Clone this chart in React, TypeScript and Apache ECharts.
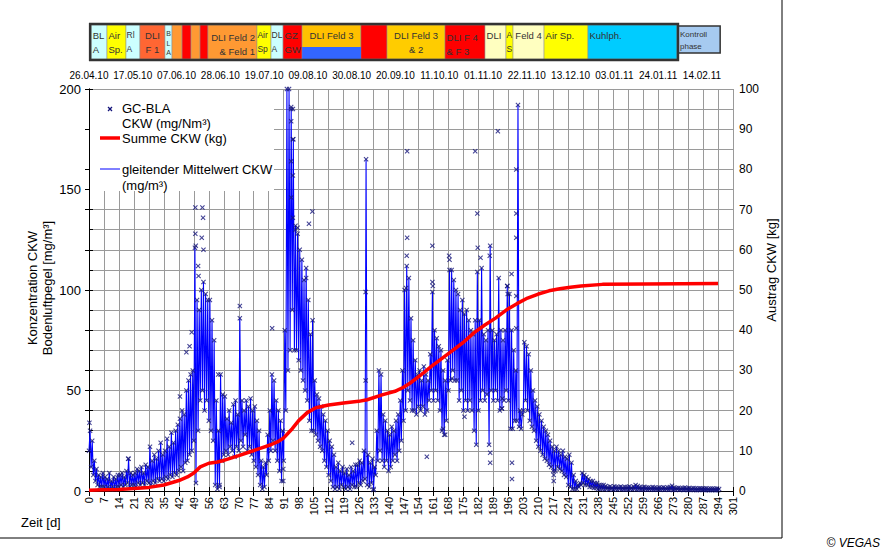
import React, { useEffect, useRef } from "react";
import * as echarts from "echarts";

// ---------- data ----------
const dateLabels = [
  "26.04.10", "17.05.10", "07.06.10", "28.06.10", "19.07.10", "09.08.10", "30.08.10", "20.09.10",
  "11.10.10", "01.11.10", "22.11.10", "13.12.10", "03.01.11", "24.01.11", "14.02.11",
];
// the date row of the original uses its own, slightly compressed scale
const dateAxisMax = 308.9;

// daily low / high of the moving-average line (mg/m³), day 0..294
const avgLo = [
  20, 12, 8, 5, 3, 2, 2,
  2, 1, 2, 1, 2, 1, 2,
  2, 3, 2, 3, 4, 2, 3,
  3, 2, 4, 3, 4, 3, 5,
  4, 3, 5, 4, 6, 5, 6,
  5, 7, 6, 8, 7, 9, 8,
  10, 12, 10, 14, 15, 18, 20,
  25, 4, 30, 45, 50, 40, 45,
  35, 30, 25, 3, 1, 3, 15,
  18, 20, 18, 22, 20, 17, 22,
  20, 25, 22, 28, 20, 22, 18,
  15, 12, 8, 3, 1, 2, 8,
  15, 20, 25, 20, 15, 10, 5,
  15, 40, 60, 70, 90, 70, 70,
  65, 60, 55, 50, 45, 35, 30,
  30, 28, 25, 22, 20, 15, 12,
  8, 5, 2, 1, 2, 1, 3,
  2, 1, 2, 1, 3, 2, 2,
  4, 3, 5, 6, 3, 2, 4,
  1, 8, 15, 20, 15, 12, 15,
  10, 12, 15, 18, 15, 20, 25,
  35, 40, 50, 45, 40, 40, 38,
  42, 40, 42, 38, 40, 45, 50,
  45, 50, 45, 40, 30, 28, 35,
  50, 55, 60, 55, 55, 45, 50,
  40, 45, 40, 45, 40, 30, 23,
  40, 45, 50, 45, 48, 23, 50,
  45, 50, 45, 40, 41, 45, 50,
  45, 31, 31, 35, 35, 32, 31,
  40, 45, 40, 35, 32, 30, 25,
  22, 20, 18, 16, 15, 13, 12,
  10, 10, 12, 11, 10, 8, 7,
  3, 2, 1, 1, 1, 2, 3,
  4, 3, 3, 2, 2, 1.5, 1.5,
  1, 1, 1, 0.8, 1, 0.8, 1,
  0.7, 0.9, 0.8, 1, 0.7, 0.8, 0.8,
  0.7, 0.9, 0.8, 1, 0.7, 0.8, 0.6,
  0.8, 0.7, 0.6, 0.8, 0.7, 0.6, 0.8,
  0.7, 0.6, 0.7, 0.6, 0.7, 0.6, 0.7,
  0.5, 0.6, 0.7, 0.5, 0.6, 0.5, 0.6,
  0.5, 0.5, 0.6, 0.5, 0.4, 0.5, 0.6,
  0.5, 0.4, 0.5, 0.4, 0.4, 0.5, 0.4, 0.4,
];
const avgHi = [
  30, 25, 15, 11, 8, 7, 9,
  7, 6, 9, 5, 7, 6, 8,
  8, 9, 7, 10, 16, 9, 8,
  9, 11, 10, 12, 9, 13, 12,
  22, 15, 18, 16, 20, 24, 18,
  20, 26, 22, 29, 24, 30, 33,
  36, 40, 38, 50, 55, 58, 60,
  121, 95, 90, 100, 104, 98, 95,
  95, 85, 75, 45, 30, 58, 48,
  47, 36, 40, 34, 43, 45, 38,
  86, 45, 40, 45, 42, 46, 40,
  42, 35, 30, 15, 12, 14, 28,
  40, 58, 55, 45, 40, 35, 30,
  80, 200, 200, 190, 175, 132, 128,
  120, 115, 105, 111, 95, 78, 85,
  55, 48, 46, 42, 38, 35, 30,
  25, 22, 18, 12, 14, 10, 12,
  9, 11, 8, 12, 10, 13, 13,
  15, 14, 20, 165, 18, 14, 16,
  12, 30, 60, 58, 38, 35, 30,
  28, 32, 30, 35, 38, 45, 60,
  100, 112, 106, 86, 75, 65, 58,
  60, 55, 62, 58, 55, 68, 99,
  80, 76, 72, 70, 60, 55, 65,
  110, 110, 105, 100, 98, 90, 95,
  88, 90, 85, 80, 78, 85, 109,
  85, 111, 78, 75, 80, 122, 80,
  75, 78, 106, 80, 75, 80, 102,
  98, 80, 70, 60, 192, 40, 38,
  74, 72, 68, 60, 50, 45, 42,
  38, 35, 32, 30, 28, 25, 22,
  20, 22, 20, 18, 20, 17, 16,
  18, 14, 8, 5, 3, 4, 9,
  8, 7, 6, 5, 5, 4, 4,
  3, 3, 3, 2.5, 2, 2.2, 1.8,
  2.4, 2, 1.9, 2.2, 1.8, 2, 2,
  2.3, 1.8, 2.2, 3, 2.5, 2, 1.8,
  2.1, 1.7, 1.8, 1.6, 2, 1.7, 1.5,
  1.8, 1.6, 1.9, 1.5, 1.7, 2, 2.6,
  1.8, 1.5, 1.6, 1.4, 1.5, 1.7, 1.4,
  1.5, 1.3, 1.5, 1.4, 1.2, 1.4, 1.3,
  1.2, 1.4, 1.1, 1.3, 1.2, 1.1, 1.2, 1.0,
];

// single GC-BLA measurements standing apart from the band
const outlierDays = [
  0.2, 18.3, 42.5, 45.5, 47, 48, 49.7, 49.7, 49.9, 51, 51.2, 53, 53.3, 52.7, 53.5, 60.4, 61, 70.5,
  85.6, 90.8, 90.8, 94.5, 94.5, 94.5, 94.5, 95.3, 95.3, 95.3, 95.3, 96.5, 97.5, 101.5, 102.8, 104.4,
  123, 129.3, 129.3, 133, 148.2, 148.7, 148.7, 148.5, 157.9, 160.5, 160.5, 160.7, 165.5, 166.5,
  168.3, 168.5, 169.6, 175.5, 180.5, 181.5, 181.7, 183, 187.5, 187.5, 187.3, 191.1, 193, 193.2,
  195.5, 195.7, 197.7, 197.7, 197.5, 199.7, 199.7, 199.7, 199.7, 199.7, 217.2, 217.2,
];
const outlierVals = [
  34, 16, 47, 69, 72, 79, 141, 128, 122, 112, 107, 141, 136, 126, 120, 58, 2, 92,
  81, 11, 5, 191, 184, 164, 146, 190, 175, 157, 136, 130, 131, 106, 133, 139,
  24, 99, 55, 0.5, 101, 169, 126, 117, 17, 122, 104, 102, 31, 28,
  117, 115, 56, 37, 169, 138, 121, 116, 19, 14, 117, 179, 41, 46,
  102, 98, 14, 6, 108, 160, 138, 126, 97, 81, 8, 5,
];

// cumulative discharge (kg)
const sumDays = [
  0, 7, 14, 21, 28, 35, 42, 46, 49, 52, 56, 60, 63, 70, 75, 80, 85, 88, 91, 95,
  98, 102, 106, 112, 119, 126, 130, 137, 143, 147, 150, 155, 160, 165, 170, 175, 180, 185, 190, 195,
  200, 205, 210, 215, 220, 225, 230, 240, 260, 294,
];
const sumKg = [
  0.2, 0.3, 0.4, 0.6, 0.9, 1.5, 2.6, 3.5, 4.5, 6.0, 6.9, 7.2, 7.6, 8.8, 9.7, 10.6, 11.5, 12.2, 13.2, 15.5,
  17.5, 19.5, 20.7, 21.4, 21.9, 22.3, 22.7, 23.9, 24.8, 25.8, 26.8, 28.8, 31, 33, 35, 37, 39.4, 41.3, 43, 45,
  46.6, 48, 49, 49.8, 50.3, 50.7, 51, 51.4, 51.5, 51.6,
];

// project phases (day boundaries) shown in the top strip
const phaseStart = [1, 8.4, 17.3, 23.8, 35.5, 38.8, 43.5, 47.7, 51.9, 55.6, 78.5, 85.1, 90.7, 99.6, 127.1, 139.3, 166.4, 185.1, 194.9, 198.2, 212.7, 233.2];
const phaseEnd = [8.4, 17.3, 23.8, 35.5, 38.8, 43.5, 47.7, 51.9, 55.6, 78.5, 85.1, 90.7, 99.6, 127.1, 139.3, 166.4, 185.1, 194.9, 198.2, 212.7, 233.2, 274.8];
const phaseLabels = [
  "BL\nA", "Air\nSp.", "Rl\nA", "DLI\nF 1", "B\nL\nA", "", "", "", "", "DLI Feld 2\n& Feld 1", "Air\nSp", "DL\nA", "GZ\nGW",
  "DLI Feld 3", "", "DLI Feld 3\n& 2", "DLI F 4\n& F 3", "DLI", "A\nS", "Feld 4", "Air Sp.", "Kuhlph.",
];
const controlPhase = { start: 275.3, end: 295, label: "Kontroll\nphase" };

// ---------- styles ----------
const phaseFill = [
  "#ccffff", "#ffff00", "#ccffff", "#ff6633", "#ccffff", "#ff9933", "#ff0000", "#ff9933", "#ff0000", "#ff9933", "#ffff00", "#ccffff", "#ff0000",
  "#ffc000", "#ff0000", "#ffcc00", "#ff0000", "#ffffc0", "#ffff00", "#ffffc0", "#ffff00", "#00ccff",
];
const phaseAlign = [
  "left", "left", "left", "center", "center", "center", "center", "center", "center", "right", "left", "left", "left",
  "center", "center", "center", "left", "left", "left", "center", "left", "left",
];

const FONT = '"Liberation Sans", Arial, sans-serif';

export default function App() {
  const ref = useRef<HTMLDivElement>(null);

  useEffect(() => {
    document.body.style.margin = "0";
    const chart = echarts.init(ref.current!, null, { renderer: "svg" });

    const avgLine: number[][] = [];
    for (let d = 0; d < avgLo.length; d++) {
      avgLine.push([d, avgLo[d]]);
      avgLine.push([d + 0.5, avgHi[d]]);
    }
    const scatterPts: number[][] = avgLine.slice();
    for (let i = 0; i < outlierDays.length; i++) scatterPts.push([outlierDays[i], outlierVals[i]]);
    const sumLine = sumDays.map((d, i) => [d, sumKg[i]]);

    const black = "#000";
    const grid = "#9a9a9a";
    const xMarker = "path://M0,1.5L1.5,0L5,3.5L8.5,0L10,1.5L6.5,5L10,8.5L8.5,10L5,6.5L1.5,10L0,8.5L3.5,5Z";

    chart.setOption({
      animation: false,
      backgroundColor: "#fff",
      textStyle: { fontFamily: FONT },
      grid: { left: 89, right: 157, top: 89, bottom: 59, containLabel: false },
      xAxis: [
        {
          type: "value", position: "bottom", min: 0, max: 301, interval: 7,
          axisLine: { lineStyle: { color: black, width: 1 } },
          axisTick: { show: true, inside: false, length: 4, lineStyle: { color: black } },
          axisLabel: { rotate: 90, fontSize: 11, color: black, margin: 6, fontFamily: FONT },
          splitLine: { show: true, lineStyle: { color: grid, width: 1 } },
        },
        {
          type: "value", position: "bottom", min: 0, max: 301, interval: 7,
          axisLine: { show: false },
          axisTick: { show: true, inside: true, length: 4, lineStyle: { color: black } },
          axisLabel: { show: false }, splitLine: { show: false },
        },
        {
          type: "value", position: "top", min: 0, max: 301, interval: 7,
          axisLine: { lineStyle: { color: black, width: 1 } },
          axisTick: { show: true, inside: true, length: 5, lineStyle: { color: black } },
          axisLabel: { show: false },
          splitLine: { show: false },
        },
        {
          type: "value", position: "top", min: 0, max: dateAxisMax, interval: 21,
          axisLine: { show: false },
          axisTick: { show: false },
          axisLabel: {
            fontSize: 10, color: black, margin: 9, fontFamily: FONT, showMaxLabel: false,
            formatter: (v: number) => (v % 21 === 0 ? dateLabels[v / 21] || "" : ""),
          },
          splitLine: { show: false },
        },
      ],
      yAxis: [
        {
          type: "value", position: "left", min: 0, max: 200, interval: 10,
          axisLine: { show: true, lineStyle: { color: black, width: 1 } },
          axisTick: { show: true, inside: true, length: 4, lineStyle: { color: black } },
          axisLabel: { fontSize: 13, color: black, margin: 8, fontFamily: FONT, formatter: (v: number) => (v % 50 === 0 ? String(v) : "") },
          splitLine: { show: true, lineStyle: { color: grid, width: 1 } },
        },
        {
          type: "value", position: "right", min: 0, max: 100, interval: 10,
          axisLine: { show: true, lineStyle: { color: black, width: 1 } },
          axisTick: { show: true, inside: false, length: 4, lineStyle: { color: black } },
          axisLabel: { fontSize: 12, color: black, margin: 6, fontFamily: FONT },
          splitLine: { show: false },
        },
        {
          type: "value", position: "left", min: 0, max: 200, interval: 50,
          axisLine: { show: false },
          axisTick: { show: true, inside: false, length: 4, lineStyle: { color: black } },
          axisLabel: { show: false }, splitLine: { show: false },
        },
        {
          type: "value", position: "right", min: 0, max: 100, interval: 10,
          axisLine: { show: false },
          axisTick: { show: true, inside: true, length: 4, lineStyle: { color: black } },
          axisLabel: { show: false }, splitLine: { show: false },
        },
      ],
      series: [
        {
          name: "gleitender Mittelwert CKW", type: "line", xAxisIndex: 0, yAxisIndex: 0,
          data: avgLine, showSymbol: false, symbol: "none",
          lineStyle: { color: "#0000ff", width: 1.1 }, z: 2, silent: true,
        },
        {
          name: "GC-BLA", type: "scatter", xAxisIndex: 0, yAxisIndex: 0,
          data: scatterPts, symbol: xMarker, symbolSize: 5,
          itemStyle: { color: "#14147a" }, z: 3, silent: true,
        },
        {
          name: "Summe CKW (kg)", type: "line", xAxisIndex: 0, yAxisIndex: 1,
          data: sumLine, showSymbol: false, symbol: "none",
          lineStyle: { color: "#ff0000", width: 3.5 }, z: 4, silent: true,
        },
      ],
    });

    const px = (d: number) => chart.convertToPixel({ xAxisIndex: 0 }, d) as number;
    const els: any[] = [];
    const barTop = 25, barBot = 59;

    // phase strip
    for (let i = 0; i < phaseStart.length; i++) {
      const x0 = px(phaseStart[i]);
      const x1 = px(phaseEnd[i]);
      els.push({
        type: "rect", shape: { x: x0, y: barTop, width: x1 - x0, height: barBot - barTop },
        style: { fill: phaseFill[i], stroke: "#8a8a8a", lineWidth: 0.5 }, z: 10,
      });
      if (i === 13) {
        els.push({
          type: "rect", shape: { x: x0, y: 47, width: x1 - x0, height: barBot - 47 },
          style: { fill: "#3366ff" }, z: 11,
        });
      }
      const label = phaseLabels[i];
      if (!label) continue;
      const lines = label.split("\n").length;
      const align = phaseAlign[i];
      const narrow = x1 - x0 < 15;
      const tx = align === "left" ? x0 + (narrow ? 0.5 : 1.5) : align === "right" ? x1 - 2 : (x0 + x1) / 2;
      const fs = lines === 3 ? 7 : narrow ? 8.5 : 9.5;
      const lh = lines === 3 ? 9.5 : 14;
      const cy = lines === 1 ? 35 : lines === 2 ? (i === 9 || i === 16 ? 44 : 42) : 43;
      els.push({
        type: "text", x: tx, y: cy, z: 12,
        style: {
          text: label, fill: "#333", font: `${fs}px ${FONT}`, textAlign: align,
          textVerticalAlign: "middle", lineHeight: lh,
        },
      });
    }
    els.push({
      type: "rect", shape: { x: px(phaseStart[0]) - 1, y: barTop - 1, width: px(phaseEnd[phaseEnd.length - 1]) - px(phaseStart[0]) + 2, height: barBot - barTop + 2 },
      style: { fill: "none", stroke: "#333", lineWidth: 2.5 }, z: 13,
    });
    {
      const x0 = px(controlPhase.start), x1 = px(controlPhase.end);
      els.push({
        type: "rect", shape: { x: x0, y: 26, width: x1 - x0, height: 27 },
        style: { fill: "#a6caf0", stroke: "#333", lineWidth: 1.5 }, z: 10,
      });
      els.push({
        type: "text", x: x0 + 2, y: 40, z: 12,
        style: { text: controlPhase.label, fill: "#333", font: `8px ${FONT}`, textAlign: "left", textVerticalAlign: "middle", lineHeight: 12 },
      });
    }

    // legend
    els.push({ type: "rect", shape: { x: 90, y: 90, width: 184, height: 101 }, style: { fill: "#fff" }, z: 20 });
    els.push({ type: "line", shape: { x1: 108, y1: 107, x2: 112, y2: 111 }, style: { stroke: "#14147a", lineWidth: 1.3 }, z: 21 });
    els.push({ type: "line", shape: { x1: 112, y1: 107, x2: 108, y2: 111 }, style: { stroke: "#14147a", lineWidth: 1.3 }, z: 21 });
    els.push({
      type: "text", x: 122, y: 116, z: 21,
      style: { text: "GC-BLA\nCKW (mg/Nm³)", fill: "#000", font: `13px ${FONT}`, textAlign: "left", textVerticalAlign: "middle", lineHeight: 15 },
    });
    els.push({ type: "line", shape: { x1: 100, y1: 138, x2: 120, y2: 138 }, style: { stroke: "#ff0000", lineWidth: 3.5 }, z: 21 });
    els.push({
      type: "text", x: 122, y: 138, z: 21,
      style: { text: "Summe CKW (kg)", fill: "#000", font: `13px ${FONT}`, textAlign: "left", textVerticalAlign: "middle" },
    });
    els.push({ type: "line", shape: { x1: 100, y1: 169, x2: 120, y2: 169 }, style: { stroke: "#0000ff", lineWidth: 1 }, z: 21 });
    els.push({
      type: "text", x: 122, y: 177, z: 21,
      style: { text: "gleitender Mittelwert CKW\n(mg/m³)", fill: "#000", font: `13px ${FONT}`, textAlign: "left", textVerticalAlign: "middle", lineHeight: 16 },
    });

    // axis titles and notes
    els.push({
      type: "text", x: 40, y: 288, rotation: Math.PI / 2, z: 5,
      style: { text: "Konzentration CKW\nBodenluftpegel [mg/m³]", fill: "#000", font: `13px ${FONT}`, textAlign: "center", textVerticalAlign: "middle", lineHeight: 15 },
    });
    els.push({
      type: "text", x: 771, y: 270, rotation: Math.PI / 2, z: 5,
      style: { text: "Austrag CKW [kg]", fill: "#000", font: `13px ${FONT}`, textAlign: "center", textVerticalAlign: "middle" },
    });
    els.push({
      type: "text", x: 21, y: 522, z: 5,
      style: { text: "Zeit [d]", fill: "#000", font: `13px ${FONT}`, textAlign: "left", textVerticalAlign: "middle" },
    });
    els.push({
      type: "text", x: 880, y: 543, z: 5,
      style: { text: "© VEGAS", fill: "#000", font: `italic 12px ${FONT}`, textAlign: "right", textVerticalAlign: "middle" },
    });
    // outer frame
    els.push({ type: "line", shape: { x1: 782, y1: 0, x2: 782, y2: 538 }, style: { stroke: "#000", lineWidth: 1 }, z: 5 });
    els.push({ type: "line", shape: { x1: 0, y1: 538, x2: 782, y2: 538 }, style: { stroke: "#000", lineWidth: 1 }, z: 5 });

    chart.setOption({ graphic: { elements: els } });

    return () => chart.dispose();
  }, []);

  return (
    <div
      ref={ref}
      style={{ position: "absolute", left: 0, top: 0, width: 890, height: 550, background: "#fff" }}
    />
  );
}
